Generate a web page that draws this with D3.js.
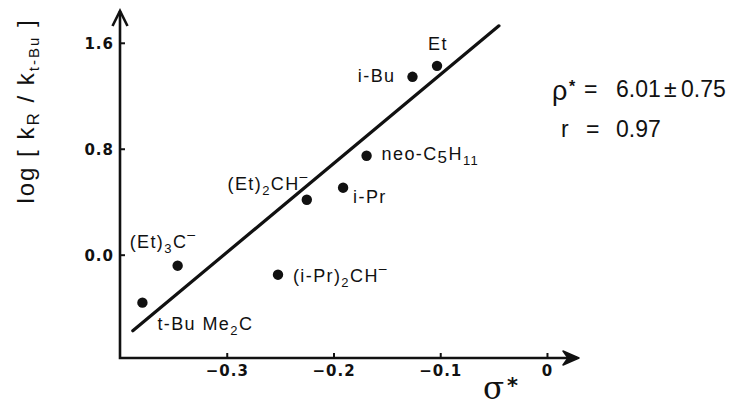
<!DOCTYPE html>
<html><head><meta charset="utf-8">
<script src="https://cdn.jsdelivr.net/npm/d3@7"></script>
<style>
body{margin:0;background:#fff}
svg{display:block}
</style></head><body>
<svg id="chart" width="747" height="408"></svg>
<script>
// ---- data ----
const substituents = ["t-BuMe2C", "(Et)3C-", "(i-Pr)2CH-", "(Et)2CH-", "i-Pr", "neo-C5H11", "i-Bu", "Et"];
const sigmaStar   = [-0.379, -0.346, -0.252, -0.225, -0.191, -0.169, -0.126, -0.103];
const logKRatio   = [-0.362, -0.083, -0.151, 0.415, 0.506, 0.747, 1.343, 1.426];
const fitSigma    = [-0.388, -0.045];
const fitLog      = [-0.574, 1.728];
const xTicks      = [-0.3, -0.2, -0.1, 0];
const xTickLabels = ["\u22120.3", "\u22120.2", "\u22120.1", "0"];
const yTicks      = [0.0, 0.8, 1.6];
const yTickLabels = ["0.0", "0.8", "1.6"];
const rhoValue = "6.01", rhoError = "0.75", rValue = "0.97";

// rich text pieces for labels: [text, kind]
const labelParts = {
  "t-BuMe2C":   [["t-Bu Me"], ["2", "sub"], ["C"]],
  "(Et)3C-":    [["(Et)"], ["3", "sub"], ["C"], ["\u2013", "sup"]],
  "(i-Pr)2CH-": [["(i-Pr)"], ["2", "sub"], ["CH"], ["\u2013", "sup"]],
  "(Et)2CH-":   [["(Et)"], ["2", "sub"], ["CH"], ["\u2013", "sup"]],
  "i-Pr":       [["i-Pr"]],
  "neo-C5H11":  [["neo-C"], ["5", "sub5"], ["H"], ["11", "sub"]],
  "i-Bu":       [["i-Bu"]],
  "Et":         [["Et"]]
};
// label layout relative to the dot
const labelLayout = {
  "t-BuMe2C":   {dx: 15, dy: 27, anchor: "start"},
  "(Et)3C-":    {dx: -48, dy: -18, anchor: "start"},
  "(i-Pr)2CH-": {dx: 15, dy: 7, anchor: "start"},
  "(Et)2CH-":   {dx: 2, dy: -10, anchor: "end"},
  "i-Pr":       {dx: 10, dy: 15, anchor: "start"},
  "neo-C5H11":  {dx: 15, dy: 4, anchor: "start"},
  "i-Bu":       {dx: -17, dy: 5, anchor: "end"},
  "Et":         {dx: 1, dy: -16, anchor: "middle"}
};

const svg = d3.select("#chart");
const ink = "#111";
const x = d3.scaleLinear().domain([-0.4, 0.03]).range([120, 579]);
const y = d3.scaleLinear().domain([-0.78, 1.84]).range([358, 11]);

// axes (ticks only)
const xAxis = d3.axisBottom(x).tickValues(xTicks)
  .tickFormat((d, i) => xTickLabels[i]).tickSizeInner(-5).tickSizeOuter(0).tickPadding(7);
const yAxis = d3.axisLeft(y).tickValues(yTicks)
  .tickFormat((d, i) => yTickLabels[i]).tickSizeInner(-5).tickSizeOuter(0).tickPadding(6);

const gx = svg.append("g").attr("transform", `translate(0,${y.range()[0]})`).call(xAxis);
const gy = svg.append("g").attr("transform", `translate(${x.range()[0]},0)`).call(yAxis);
[gx, gy].forEach(g => {
  g.select(".domain").remove();
  g.selectAll(".tick line").attr("stroke", ink).attr("stroke-width", 2);
  g.selectAll(".tick text").attr("fill", ink)
    .style("font-family", "'DejaVu Sans', sans-serif").style("font-weight", "bold")
    .style("font-size", "15px").style("letter-spacing", "1px");
});
gy.selectAll(".tick text").attr("dy", "0.36em");

// axis lines with arrows
const x0 = x.range()[0], x1 = x.range()[1], y0 = y.range()[0], y1 = y.range()[1];
svg.append("path")
  .attr("d", `M${x0},${y1} L${x0},${y0} L${x1 - 2},${y0}`)
  .attr("fill", "none").attr("stroke", ink).attr("stroke-width", 2.6);
svg.append("path")
  .attr("d", `M${x0 - 7.5},${y1 + 15} L${x0},${y1} L${x0 + 7.5},${y1 + 15}`)
  .attr("fill", "none").attr("stroke", ink).attr("stroke-width", 2.6).attr("stroke-linejoin", "miter");
svg.append("path")
  .attr("d", `M${x1 - 16},${y0 - 7} L${x1},${y0} L${x1 - 16},${y0 + 7} L${x1 - 11},${y0} Z`)
  .attr("fill", ink).attr("stroke", ink).attr("stroke-width", 1.5).attr("stroke-linejoin", "round");

// fit line
svg.append("path")
  .datum(fitSigma.map((s, i) => [s, fitLog[i]]))
  .attr("d", d3.line().x(d => x(d[0])).y(d => y(d[1])))
  .attr("stroke", ink).attr("stroke-width", 3.2).attr("fill", "none").attr("stroke-linecap", "round");

// points
const pts = substituents.map((n, i) => ({name: n, sx: sigmaStar[i], ly: logKRatio[i]}));
svg.append("g").selectAll("circle").data(pts).join("circle")
  .attr("cx", d => x(d.sx)).attr("cy", d => y(d.ly)).attr("r", 5.2).attr("fill", ink);

// labels
const lab = svg.append("g").selectAll("text").data(pts).join("text")
  .attr("x", d => x(d.sx) + labelLayout[d.name].dx)
  .attr("y", d => y(d.ly) + labelLayout[d.name].dy)
  .attr("text-anchor", d => labelLayout[d.name].anchor)
  .attr("fill", ink)
  .style("font-family", "'Liberation Sans', Arial, sans-serif")
  .style("font-size", "18px").style("letter-spacing", "1.4px");
lab.each(function(d) {
  const t = d3.select(this);
  let shift = 0;
  labelParts[d.name].forEach(([txt, kind]) => {
    let target = 0, size = null;
    if (kind === "sub") { target = 5; size = "13px"; }
    else if (kind === "sub5") { target = 3; size = "17px"; }
    else if (kind === "sup") { target = -9; size = "14px"; }
    const ts = t.append("tspan").text(txt).attr("dy", target - shift);
    if (size) ts.style("font-size", size);
    shift = target;
  });
});

// y-axis title
const yt = svg.append("text")
  .attr("transform", `translate(34,111) rotate(-90)`)
  .attr("text-anchor", "middle").attr("fill", ink)
  .style("font-family", "'Liberation Sans', Arial, sans-serif")
  .style("font-size", "24px").style("letter-spacing", "2px");
yt.append("tspan").text("log [ k");
yt.append("tspan").text("R").attr("dy", 5).style("font-size", "17px");
yt.append("tspan").text(" / k").attr("dy", -5);
yt.append("tspan").text("t-Bu").attr("dy", 5).style("font-size", "15px");
yt.append("tspan").text(" ]").attr("dy", -5);

// x-axis title
svg.append("text").attr("x", 483).attr("y", 399).attr("fill", ink)
  .style("font-family", "'DejaVu Serif', serif").style("font-size", "31px").text("\u03c3");
svg.append("text").attr("x", 507).attr("y", 393).attr("fill", ink)
  .style("font-family", "'DejaVu Sans', sans-serif").style("font-weight", "bold")
  .style("font-size", "21px").text("*");

// rho annotation
const ann = svg.append("g").attr("fill", ink)
  .style("font-family", "'Liberation Sans', Arial, sans-serif").style("font-size", "23px");
ann.append("text").attr("x", 552).attr("y", 100).style("font-size", "27px").text("\u03c1");
ann.append("text").attr("x", 569).attr("y", 92).style("font-size", "16px").style("font-weight", "bold").text("*");
ann.append("text").attr("x", 584).attr("y", 97).text("=");
ann.append("text").attr("x", 616).attr("y", 97).text(rhoValue);
ann.append("text").attr("x", 664).attr("y", 97).text("\u00b1");
ann.append("text").attr("x", 681).attr("y", 97).text(rhoError);
ann.append("text").attr("x", 561).attr("y", 137).text("r");
ann.append("text").attr("x", 586).attr("y", 137).text("=");
ann.append("text").attr("x", 616).attr("y", 137).text(rValue);
</script>
</body></html>
